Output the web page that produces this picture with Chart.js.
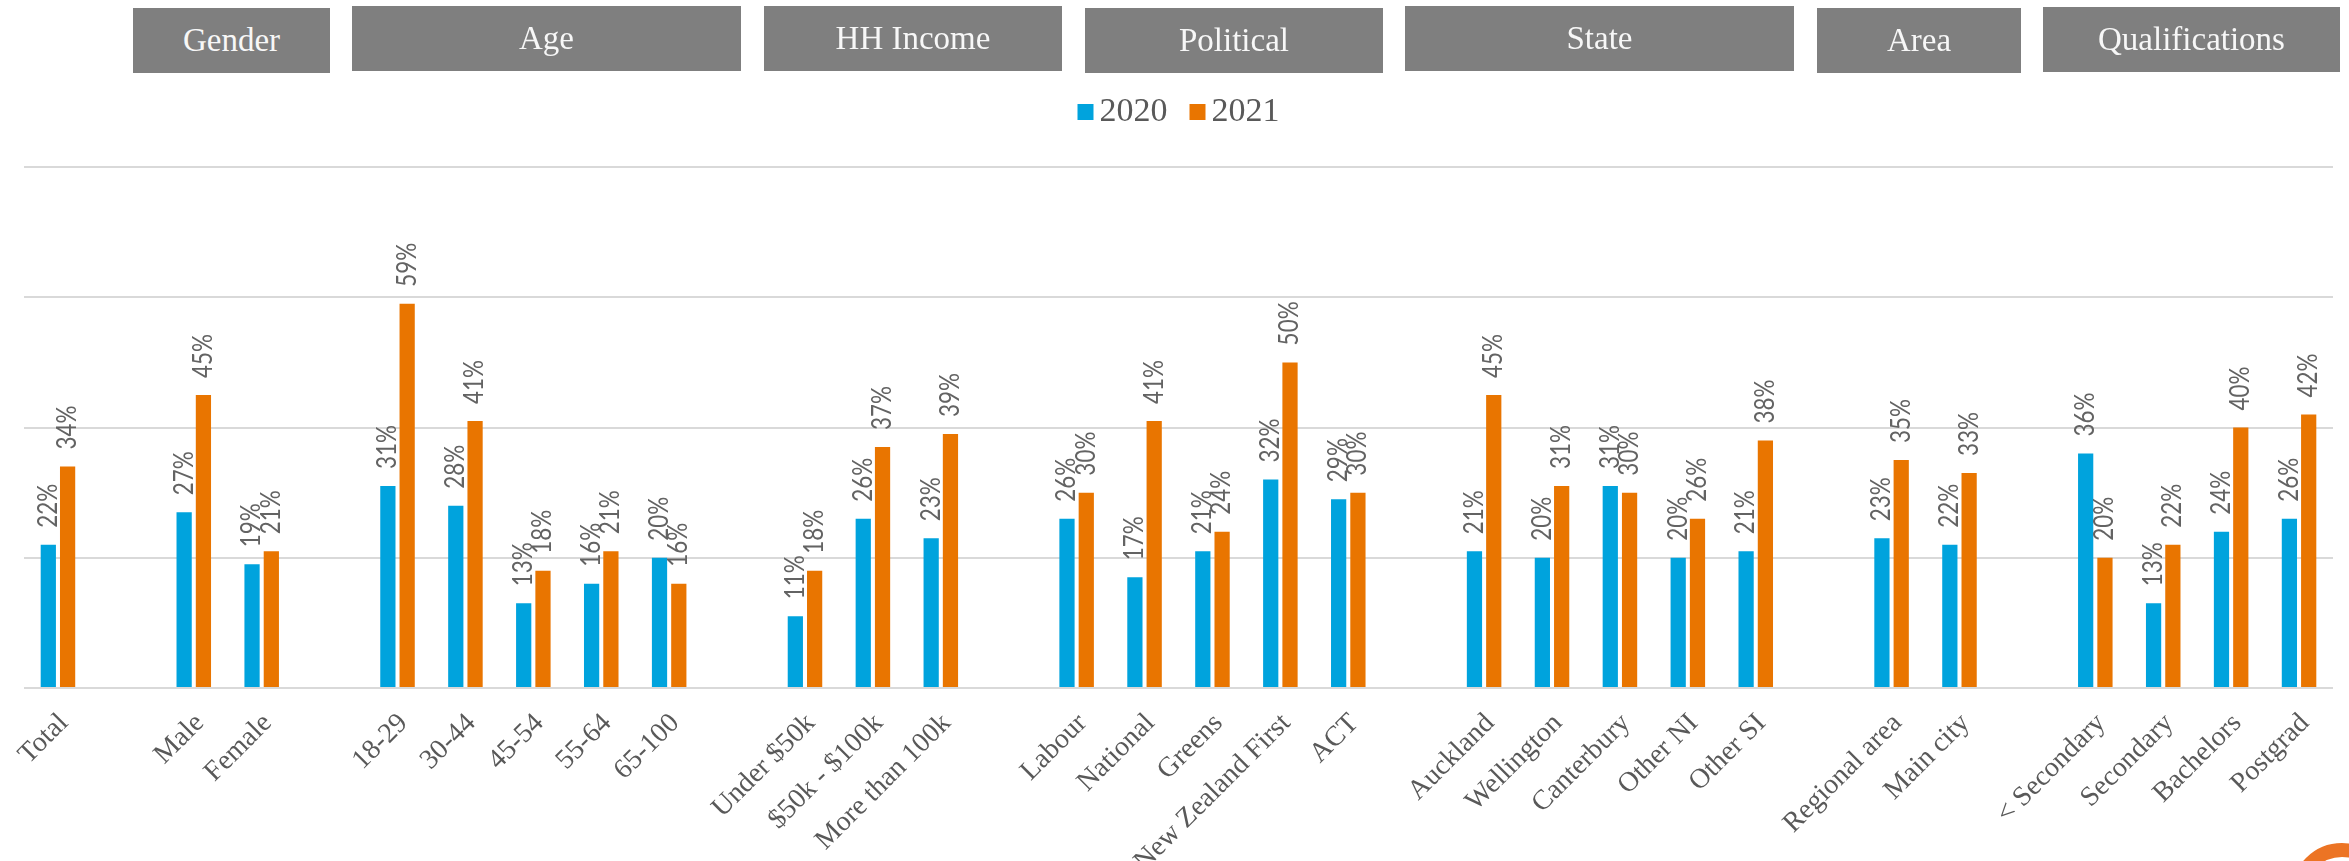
<!DOCTYPE html>
<html>
<head>
<meta charset="utf-8">
<title>2020 vs 2021 by segment</title>
<script src="https://cdn.jsdelivr.net/npm/chart.js@4.4.1/dist/chart.umd.min.js"></script>
<style>
  html, body { margin: 0; padding: 0; background: #fff; overflow: hidden; }
  #wrap { position: relative; width: 2349px; height: 861px; }
  #chart { position: absolute; left: 0; top: 0; }
  .hdr {
    position: absolute; background: #7f7f7f; color: #f7f7f7;
    font: 33px "Liberation Serif", "DejaVu Serif", serif;
    display: flex; align-items: center; justify-content: center;
  }
  #logo {
    position: absolute; left: 2291px; top: 843px; width: 102px; height: 102px;
    box-sizing: border-box; border: 14px solid #ec7424; border-radius: 50%;
  }
</style>
</head>
<body>
<div id="wrap">
  <canvas id="chart" width="2349" height="861"></canvas>
  <div id="logo"></div>
</div>
<script>
// ---------- data (blank labels are the gaps between groups) ----------
const categories = [
  'Total', '',
  'Male', 'Female', '',
  '18-29', '30-44', '45-54', '55-64', '65-100', '',
  'Under $50k', '$50k - $100k', 'More than 100k', '',
  'Labour', 'National', 'Greens', 'New Zealand First', 'ACT', '',
  'Auckland', 'Wellington', 'Canterbury', 'Other NI', 'Other SI', '',
  'Regional area', 'Main city', '',
  '< Secondary', 'Secondary', 'Bachelors', 'Postgrad'
];
const values2020 = [
  22, null,
  27, 19, null,
  31, 28, 13, 16, 20, null,
  11, 26, 23, null,
  26, 17, 21, 32, 29, null,
  21, 20, 31, 20, 21, null,
  23, 22, null,
  36, 13, 24, 26
];
const values2021 = [
  34, null,
  45, 21, null,
  59, 41, 18, 21, 16, null,
  18, 37, 39, null,
  30, 41, 24, 50, 30, null,
  45, 31, 30, 26, 38, null,
  35, 33, null,
  20, 22, 40, 42
];
const seriesNames = ['2020', '2021'];
const yTickValues = [0, 20, 40, 60, 80];
const groupHeaders = ['Gender', 'Age', 'HH Income', 'Political', 'State', 'Area', 'Qualifications'];

// header box placement [left, top, width, height] in page px
const headerBoxes = [
  [133, 8, 197, 65], [352, 6, 389, 65], [764, 6, 298, 65], [1085, 8, 298, 65],
  [1405, 6, 389, 65], [1817, 8, 204, 65], [2043, 7, 297, 65]
];

const BLUE = '#00a3dd', ORANGE = '#e97500', GREY_TXT = '#595959', GRID = '#d9d9d9';

// ---------- headers (plain html over the canvas) ----------
const wrap = document.getElementById('wrap');
groupHeaders.forEach((name, i) => {
  const [l, t, w, h] = headerBoxes[i];
  const d = document.createElement('div');
  d.className = 'hdr';
  d.style.cssText = `left:${l}px;top:${t}px;width:${w}px;height:${h}px`;
  d.textContent = name;
  wrap.appendChild(d);
});

// ---------- value labels, rotated, sitting above each bar ----------
const barLabels = {
  id: 'barLabels',
  afterDatasetsDraw(chart, _args, opts) {
    const ctx = chart.ctx;
    ctx.save();
    ctx.font = opts.font;
    ctx.fillStyle = opts.color;
    ctx.textAlign = 'left';
    ctx.textBaseline = 'middle';
    // original deck font has narrow figures: squeeze so "22%" is ~43px long
    const squeeze = Math.min(1, opts.refLen / ctx.measureText('22%').width);
    chart.data.datasets.forEach((ds, di) => {
      const meta = chart.getDatasetMeta(di);
      meta.data.forEach((bar, i) => {
        const v = ds.data[i];
        if (v == null) return;
        ctx.save();
        ctx.translate(bar.x, bar.y - opts.gap);
        ctx.rotate(-Math.PI / 2);
        ctx.scale(squeeze, 1);
        ctx.fillText(v + '%', 0, 0);
        ctx.restore();
      });
    });
    ctx.restore();
  }
};

// ---------- legend under the headers ----------
const topLegend = {
  id: 'topLegend',
  afterDraw(chart, _args, o) {
    const ctx = chart.ctx;
    ctx.save();
    ctx.font = o.font;
    const items = chart.data.datasets.map(d => ({
      text: d.label, color: d.backgroundColor, w: ctx.measureText(d.label).width
    }));
    const total = items.reduce((s, it) => s + o.box + o.textGap + it.w, 0) + o.itemGap * (items.length - 1);
    let x = (chart.chartArea.left + chart.chartArea.right) / 2 - total / 2;
    items.forEach(it => {
      ctx.fillStyle = it.color;
      ctx.fillRect(x, o.boxTop, o.box, o.box);
      x += o.box + o.textGap;
      ctx.fillStyle = o.color;
      ctx.textBaseline = 'alphabetic';
      ctx.fillText(it.text, x, o.baseline);
      x += it.w + o.itemGap;
    });
    ctx.restore();
  }
};

new Chart(document.getElementById('chart'), {
  type: 'bar',
  data: {
    labels: categories,
    datasets: [
      { label: seriesNames[0], data: values2020, backgroundColor: BLUE },
      { label: seriesNames[1], data: values2021, backgroundColor: ORANGE }
    ]
  },
  options: {
    responsive: false,
    animation: false,
    categoryPercentage: 0.568,
    barPercentage: 0.79,
    layout: { padding: { top: 167, left: 24, right: 16, bottom: 0 } },
    plugins: {
      legend: { display: false },
      tooltip: { enabled: false },
      barLabels: { font: '26px Lato, "DejaVu Sans", sans-serif', color: '#636363', gap: 17, refLen: 44 },
      topLegend: { font: '34px "Liberation Serif", serif', color: GREY_TXT, box: 16, textGap: 6, itemGap: 22, boxTop: 104, baseline: 121 }
    },
    scales: {
      x: {
        grid: { display: false, drawTicks: false },
        border: { display: false },
        ticks: {
          autoSkip: false, minRotation: 45, maxRotation: 45, padding: 19, labelOffset: 6,
          color: GREY_TXT, font: { family: '"Liberation Serif", serif', size: 28 }
        },
        afterFit(s) { s.height = 861 - 688; s.paddingLeft = 0; s.paddingRight = 0; }
      },
      y: {
        min: 0, max: yTickValues[yTickValues.length - 1],
        afterBuildTicks(s) { s.ticks = yTickValues.map(v => ({ value: v })); },
        ticks: { display: false },
        grid: { color: GRID, lineWidth: 2, drawTicks: false },
        border: { display: false },
        afterFit(s) { s.width = 0; }
      }
    }
  },
  plugins: [barLabels, topLegend]
});
</script>
</body>
</html>
